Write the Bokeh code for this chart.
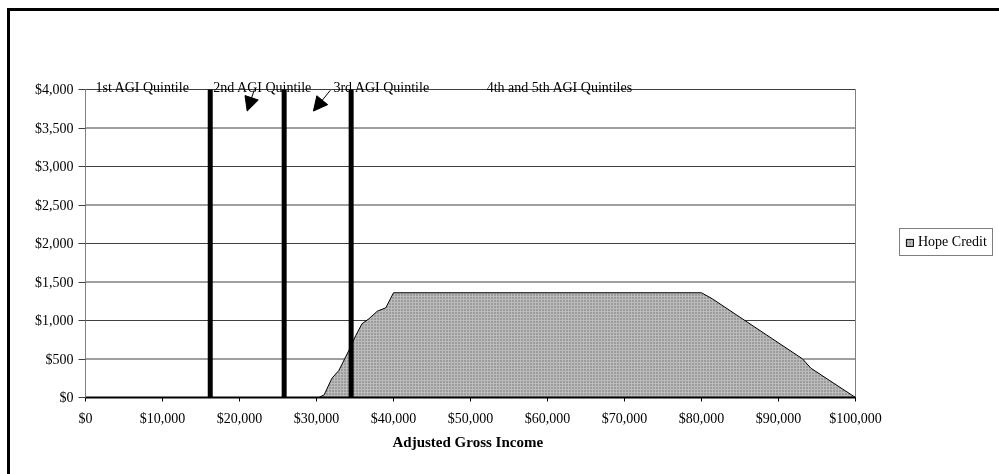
from bokeh.plotting import figure
from bokeh.models import (Range1d, FixedTicker, NumeralTickFormatter, Legend, LegendItem,
                          Label, Arrow, NormalHead, Title)
from bokeh.embed import file_html
from bokeh.resources import INLINE

# ---- data ----
income = [0, 30300, 31000, 32000, 32900, 34200, 35100, 35900, 36800, 37900, 39000,
          40000, 80000, 81400, 93100, 94200, 100000]
hope_credit = [0, 0, 35, 250, 350, 610, 805, 957, 1022, 1121, 1165,
               1360, 1360, 1282, 503, 381, 0]

quintile_bounds = [16200, 25800, 34500]
quintile_labels = ["1st AGI Quintile", "2nd AGI Quintile", "3rd AGI Quintile",
                   "4th and 5th  AGI  Quintiles"]
quintile_label_x = [1300, 16600, 32200, 52100]

arrow_x_start = [21900, 31800]
arrow_y_start = [3990, 3990]
arrow_x_end = [21000, 29600]
arrow_y_end = [3720, 3720]

x_ticks = list(range(0, 100001, 10000))
y_ticks = list(range(0, 4001, 500))
X_MAX = 100000
Y_MAX = 4000
x_title = "Adjusted Gross Income"

FONT = "Liberation Serif"

# plot area of the axes: 770 x 308 px; frame extended right and up for legend/labels
AX_W, AX_H = 770, 308
FRAME_W, FRAME_H = 919, 376
x_end = X_MAX * FRAME_W / AX_W
y_end = Y_MAX * FRAME_H / AX_H

p = figure(width=995, height=470, output_backend="svg", toolbar_location=None,
           x_range=Range1d(0, x_end), y_range=Range1d(0, y_end),
           frame_width=FRAME_W, frame_height=FRAME_H,
           min_border_left=75, min_border_right=1, min_border_top=10, min_border_bottom=90)
p.styles = {"border-top": "3px solid black", "border-left": "3px solid black",
            "position": "fixed", "top": "8px", "left": "7px"}

p.background_fill_color = "white"
p.border_fill_color = "white"
p.outline_line_color = None
p.xgrid.grid_line_color = None
p.ygrid.grid_line_color = None

# axes
p.xaxis.ticker = FixedTicker(ticks=x_ticks)
p.yaxis.ticker = FixedTicker(ticks=y_ticks)
p.xaxis.bounds = (0, X_MAX)
p.yaxis.bounds = (0, Y_MAX)
p.xaxis.formatter = NumeralTickFormatter(format="$0,0")
p.yaxis.formatter = NumeralTickFormatter(format="$0,0")
for ax in (p.xaxis, p.yaxis):
    ax.major_label_text_font = FONT
    ax.major_label_text_font_size = "14px"
    ax.major_label_text_color = "black"
    ax.minor_tick_line_color = None
    ax.major_tick_in = 0
    ax.major_tick_line_color = "black"
p.xaxis.major_tick_out = 4
p.xaxis.major_label_standoff = 9
p.xaxis.axis_line_color = "black"
p.xaxis.axis_line_width = 2
p.yaxis.major_tick_out = 7
p.yaxis.major_label_standoff = 5
p.yaxis.axis_line_color = "#808080"
p.yaxis.major_tick_line_color = "#404040"

# x-axis title, centred under the chart's plot area (not the extended frame)
p.add_layout(Title(text=x_title, align="left", offset=307, standoff=6,
                   text_font=FONT, text_font_size="15px", text_font_style="bold",
                   text_color="black"), "below")

# gridlines (only across the chart's plot area)
p.segment(x0=[0] * len(y_ticks), y0=y_ticks, x1=[X_MAX] * len(y_ticks), y1=y_ticks,
          line_color="#404040", line_width=1)
# right border of plot area
p.segment(x0=[X_MAX], y0=[0], x1=[X_MAX], y1=[Y_MAX], line_color="#808080", line_width=1)

# area
area = p.patch(income, hope_credit, fill_color="#bcbcbc", line_color="black", line_width=1,
               hatch_pattern="dot", hatch_color="#6a6a6a", hatch_scale=3, hatch_weight=1)

# quintile boundaries
p.segment(x0=quintile_bounds, y0=[0] * len(quintile_bounds),
          x1=quintile_bounds, y1=[Y_MAX] * len(quintile_bounds),
          line_color="black", line_width=5, line_cap="butt")

# labels
for txt, xv in zip(quintile_labels, quintile_label_x):
    p.add_layout(Label(x=xv, y=Y_MAX, text=txt, y_offset=2, text_baseline="alphabetic",
                       text_font=FONT, text_font_size="14px", text_color="black"))

# arrows
for xs, ys, xe, ye in zip(arrow_x_start, arrow_y_start, arrow_x_end, arrow_y_end):
    p.add_layout(Arrow(x_start=xs, y_start=ys, x_end=xe, y_end=ye, line_color="black",
                       line_width=1,
                       end=NormalHead(size=14, fill_color="black", line_color="black")))

legend = Legend(items=[LegendItem(label="Hope Credit", renderers=[area])],
                location=(814, 141), border_line_color="black", border_line_width=1,
                label_text_font=FONT, label_text_font_size="14px", label_text_color="black",
                glyph_width=9, glyph_height=9, label_height=16, label_standoff=4,
                padding=5, margin=0, spacing=0, background_fill_color="white",
                background_fill_alpha=1)
p.add_layout(legend, "center")

open("out.html", "w").write(file_html(p, INLINE))
